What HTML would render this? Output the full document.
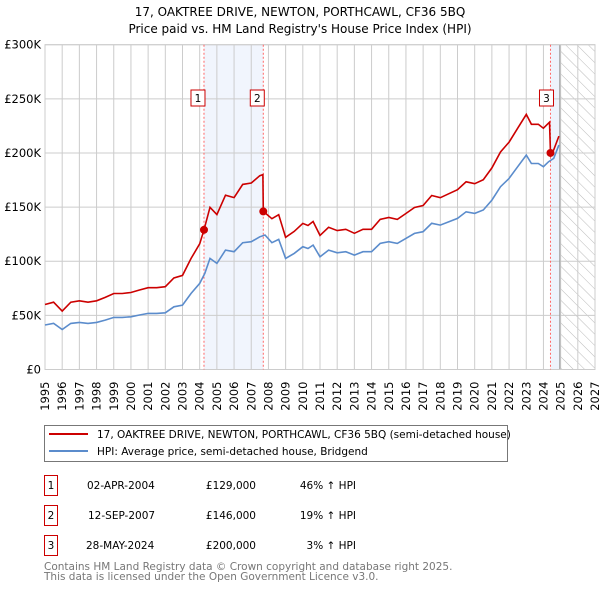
<!DOCTYPE html>
<html><head><meta charset="utf-8"><style>
body{margin:0;background:#fff;font-family:"DejaVu Sans","Liberation Sans",sans-serif;}
svg text{font-family:"DejaVu Sans","Liberation Sans",sans-serif;}
</style></head><body>
<svg id="c" width="600" height="590" viewBox="0 0 600 590" xmlns="http://www.w3.org/2000/svg">
<defs><pattern id="hatch" width="8" height="8" patternUnits="userSpaceOnUse" patternTransform="rotate(-45)"><line x1="0" y1="0" x2="0" y2="8" stroke="#bbb" stroke-width="1"/></pattern></defs>
<text x="300" y="16" text-anchor="middle" font-size="12">17, OAKTREE DRIVE, NEWTON, PORTHCAWL, CF36 5BQ</text>
<text x="300" y="33" text-anchor="middle" font-size="12">Price paid vs. HM Land Registry's House Price Index (HPI)</text>
<g id="plot"></g>
<g>
<rect x="44.5" y="425.5" width="463" height="36" fill="#fff" stroke="#777"/>
<line x1="49" y1="434" x2="88" y2="434" stroke="#cc0000" stroke-width="2"/>
<text x="97" y="438" font-size="10.5">17, OAKTREE DRIVE, NEWTON, PORTHCAWL, CF36 5BQ (semi-detached house)</text>
<line x1="49" y1="451" x2="88" y2="451" stroke="#5b8ccc" stroke-width="2"/>
<text x="97" y="455" font-size="10.5">HPI: Average price, semi-detached house, Bridgend</text>
</g>
<g font-size="10.5">
<rect x="44.5" y="475.5" width="13" height="20" fill="#fff" stroke="#cc0000"/><text x="51" y="489" text-anchor="middle">1</text>
<text x="87" y="489">02-APR-2004</text><text x="256" y="489" text-anchor="end">£129,000</text><text x="356" y="489" text-anchor="end">46% ↑ HPI</text>
<rect x="44.5" y="505.5" width="13" height="20" fill="#fff" stroke="#cc0000"/><text x="51" y="519" text-anchor="middle">2</text>
<text x="88" y="519">12-SEP-2007</text><text x="256" y="519" text-anchor="end">£146,000</text><text x="356" y="519" text-anchor="end">19% ↑ HPI</text>
<rect x="44.5" y="535.5" width="13" height="20" fill="#fff" stroke="#cc0000"/><text x="51" y="549" text-anchor="middle">3</text>
<text x="86" y="549">28-MAY-2024</text><text x="256" y="549" text-anchor="end">£200,000</text><text x="356" y="549" text-anchor="end">3% ↑ HPI</text>
</g>
<text x="44" y="570" font-size="10.5" fill="#777">Contains HM Land Registry data © Crown copyright and database right 2025.</text>
<text x="44" y="580" font-size="10.5" fill="#777">This data is licensed under the Open Government Licence v3.0.</text>
</svg>
<script>
const hpiYears=[1995,1995.5,1996,1996.5,1997,1997.5,1998,1998.5,1999,1999.5,2000,2000.5,2001,2001.5,2002,2002.5,2003,2003.5,2004,2004.3,2004.6,2005,2005.5,2006,2006.5,2007,2007.5,2007.8,2008.2,2008.6,2009,2009.5,2010,2010.3,2010.6,2011,2011.5,2012,2012.5,2013,2013.5,2014,2014.5,2015,2015.5,2016,2016.5,2017,2017.5,2018,2018.5,2019,2019.5,2020,2020.5,2021,2021.5,2022,2022.5,2023,2023.3,2023.7,2024,2024.3,2024.6,2024.9];
const hpiValues=[41.1,42.6,36.9,42.6,43.5,42.6,43.5,45.6,48.1,48.1,48.7,50.3,51.8,51.8,52.4,57.9,59.5,70.3,79.5,88.8,102.6,98,110.3,108.8,117.1,118,122.6,124.2,117.1,120.2,102.6,107.2,113.4,111.8,114.9,104.1,110.3,107.8,108.8,105.7,108.8,108.8,116.5,118,116.5,121.1,125.7,127.3,135,133.4,136.5,139.6,145.7,144.2,147.3,156.5,168.8,176.5,187.3,198,190.3,190.3,187.3,191.9,195,207.3];
const priceYears=[1995,1995.5,1996,1996.5,1997,1997.5,1998,1998.5,1999,1999.5,2000,2000.5,2001,2001.5,2002,2002.5,2003,2003.5,2004,2004.25,2004.6,2005,2005.5,2006,2006.5,2007,2007.5,2007.68,2007.7,2008.2,2008.6,2009,2009.5,2010,2010.3,2010.6,2011,2011.5,2012,2012.5,2013,2013.5,2014,2014.5,2015,2015.5,2016,2016.5,2017,2017.5,2018,2018.5,2019,2019.5,2020,2020.5,2021,2021.5,2022,2022.5,2023,2023.3,2023.7,2024,2024.35,2024.41,2024.6,2024.9];
const priceValues=[60,62.2,53.9,62.2,63.5,62.2,63.5,66.6,70.2,70.2,71.1,73.4,75.6,75.6,76.5,84.5,86.9,102.6,116.1,129,149.8,143.1,161,158.8,171,172.3,179,180,146,139.3,143,122.1,127.6,134.9,133,136.7,123.9,131.3,128.3,129.5,125.8,129.5,129.5,138.6,140.4,138.6,144.1,149.6,151.5,160.7,158.7,162.4,166.1,173.4,171.6,175.3,186.2,200.9,210,222.9,235.6,226.5,226.5,222.9,228.4,200,202.8,215.6];
const saleYears=[2004.25,2007.7,2024.41];
const saleValues=[129,146,200];
const saleLabels=["1","2","3"];
const yTicks=[0,50,100,150,200,250,300];
const yTickLabels=["£0","£50K","£100K","£150K","£200K","£250K","£300K"];
const xTicks=[1995,1996,1997,1998,1999,2000,2001,2002,2003,2004,2005,2006,2007,2008,2009,2010,2011,2012,2013,2014,2015,2016,2017,2018,2019,2020,2021,2022,2023,2024,2025,2026,2027];

const L=45,R=595,T=44.7,B=369.5,X0=1995,X1=2027,YMAX=300,DATAEND=2024.95;
const sx=v=>L+(v-X0)/(X1-X0)*(R-L);
const sy=v=>B-v/YMAX*(B-T);
const NS="http://www.w3.org/2000/svg";
const g=document.getElementById('plot');
function mk(t,a){const e=document.createElementNS(NS,t);for(const k in a)e.setAttribute(k,a[k]);g.appendChild(e);return e;}
let e=mk('rect',{x:sx(saleYears[0]),y:T,width:sx(saleYears[1])-sx(saleYears[0]),height:B-T,fill:'#eef3fc',opacity:0.8});


e=mk('rect',{x:sx(saleYears[2]),y:T,width:sx(DATAEND)-sx(saleYears[2]),height:B-T,fill:'#eef3fc'});


e=mk('rect',{x:sx(DATAEND),y:T,width:R-sx(DATAEND),height:B-T,fill:'url(#hatch)'});


yTicks.forEach((v,i)=>{
 let l=mk('line',{x1:L,x2:R,y1:sy(v),y2:sy(v),stroke:'#ccc'});
 
 
 let t=mk('text',{x:L-4,y:sy(v)+4,'text-anchor':'end','font-size':'11.5'});
 t.textContent=yTickLabels[i];
 
 
});
xTicks.forEach(v=>{
 let l=mk('line',{x1:sx(v),x2:sx(v),y1:T,y2:B,stroke:'#ccc'});
 
 
 let t=mk('text',{x:0,y:0,'text-anchor':'end','font-size':'11.5',transform:`translate(${sx(v)+4},${B+12}) rotate(-90)`});
 t.textContent=v;
 
 
});
e=mk('line',{x1:sx(DATAEND),x2:sx(DATAEND),y1:T,y2:B,stroke:'#999'});


e=mk('rect',{x:L,y:T,width:R-L,height:B-T,fill:'none',stroke:'#ccc'});


saleYears.forEach(v=>{
 let l=mk('line',{x1:sx(v),x2:sx(v),y1:T,y2:B,stroke:'#ff6666','stroke-dasharray':'2,2'});
 
 
});
const pts=(xs,ys)=>xs.map((x,i)=>sx(x).toFixed(1)+','+sy(ys[i]).toFixed(1)).join(' ');
e=mk('polyline',{points:pts(hpiYears,hpiValues),fill:'none',stroke:'#5b8ccc','stroke-width':1.6});


e=mk('polyline',{points:pts(priceYears,priceValues),fill:'none',stroke:'#cc0000','stroke-width':1.6});


saleYears.forEach((v,i)=>{
 let c=mk('circle',{cx:sx(v),cy:sy(saleValues[i]),r:4,fill:'#cc0000'});
 
 
 let bx=sx(v)-(i==2?4:6)-7;
 let r=mk('rect',{x:bx,y:90,width:14,height:16,fill:'#fff',stroke:'#cc0000'});
 
 
 let t=mk('text',{x:bx+7,y:102,'text-anchor':'middle','font-size':'10.5'});
 t.textContent=saleLabels[i];
 
 
});
</script>
</body></html>
